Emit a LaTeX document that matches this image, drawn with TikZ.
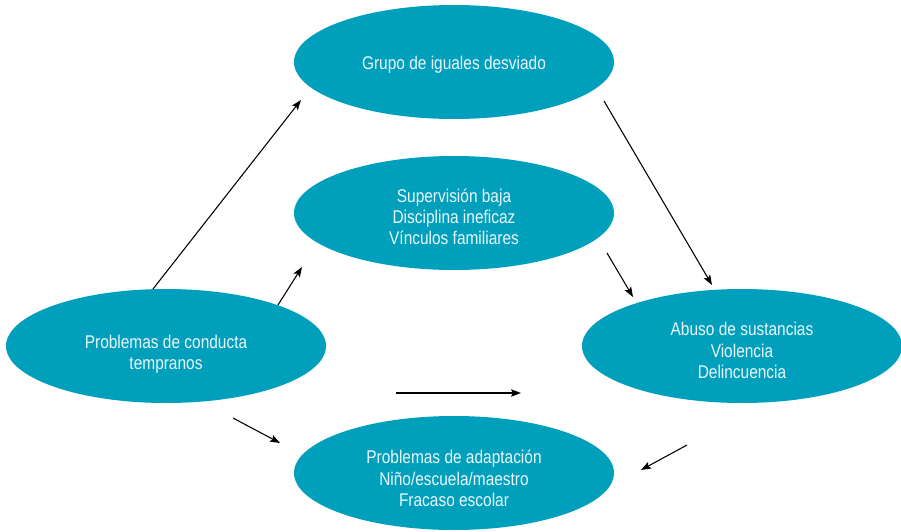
\documentclass[tikz,border=0pt]{standalone}
\usepackage{fontspec}
\setmainfont{Liberation Sans}[FakeStretch=0.84]
\usetikzlibrary{shapes.geometric,arrows.meta}

\definecolor{tealblob}{RGB}{0,160,189}

\tikzset{
  blob/.style={ellipse, fill=tealblob, draw=none, minimum width=240pt, minimum height=85.5pt,
    inner sep=0pt},
  blobtext/.style={align=center, text=white!92!tealblob, inner sep=0pt,
    font=\fontsize{13.8}{15.9}\selectfont},
  flow/.style={line width=0.8pt, -{Stealth[length=7.5pt,width=5.5pt,inset=1.5pt]}}
}

\begin{document}
\begin{tikzpicture}[x=0.75pt,y=0.75pt,yscale=-1,xscale=1]
        \useasboundingbox (0,0) rectangle (901,532);

        %Shape: Ellipse
        \node[blob] (grupo) at (454,62) {};
        %Shape: Ellipse
        \node[blob] (familia) at (454,213) {};
        %Shape: Ellipse
        \node[blob] (conducta) at (166,346) {};
        %Shape: Ellipse
        \node[blob] (abuso) at (742,346) {};
        %Shape: Ellipse
        \node[blob] (adaptacion) at (454,473) {};

        % Text Node
        \node[blobtext] (grupotxt) at ([yshift=2.2pt]grupo.center) {Grupo de iguales desviado};
        % Text Node
        \node[blobtext] (familiatxt) at ([yshift=3pt]familia.center) {Supervisión baja\\Disciplina ineficaz\\Vínculos familiares};
        % Text Node
        \node[blobtext] (conductatxt) at ([yshift=6pt]conducta.center) {Problemas de conducta\\tempranos};
        % Text Node
        \node[blobtext] (abusotxt) at ([yshift=3.4pt]abuso.center) {Abuso de sustancias\\Violencia\\Delincuencia};
        % Text Node
        \node[blobtext] (adaptaciontxt) at ([yshift=4pt]adaptacion.center) {Problemas de adaptación\\Niño/escuela/maestro\\Fracaso escolar};

        % arrow ends
        \coordinate (c1s) at (153,289);  \coordinate (c1e) at (301,100);
        \coordinate (c2s) at (278,305);  \coordinate (c2e) at (302,267);
        \coordinate (c3s) at (604,101);  \coordinate (c3e) at (712,285);
        \coordinate (c4s) at (607,253);  \coordinate (c4e) at (633,297);
        \coordinate (c5s) at (396,393);  \coordinate (c5e) at (521,393);
        \coordinate (c6s) at (233,418);  \coordinate (c6e) at (280,443);
        \coordinate (c7s) at (687,445);  \coordinate (c7e) at (641,470);

        %Straight Lines
        \draw [flow] (c1s) -- (c1e);
        \draw [flow] (c2s) -- (c2e);
        \draw [flow] (c3s) -- (c3e);
        \draw [flow] (c4s) -- (c4e);
        \draw [flow] (c5s) -- (c5e);
        \draw [flow] (c6s) -- (c6e);
        \draw [flow] (c7s) -- (c7e);

    \end{tikzpicture}
\end{document}
